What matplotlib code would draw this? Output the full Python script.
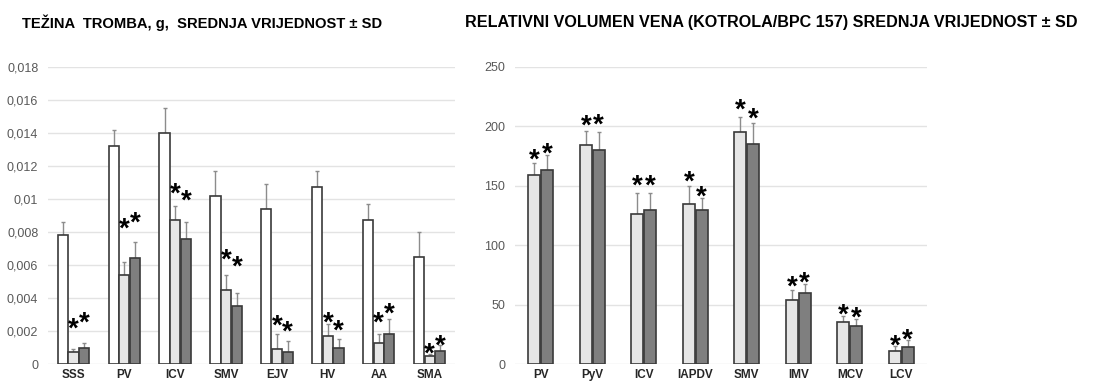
import numpy as np
import matplotlib
matplotlib.use("Agg")
from matplotlib import pyplot as plt
from matplotlib.ticker import FuncFormatter

plt.rcParams['font.family'] = ['Liberation Sans', 'DejaVu Sans']

# left panel: thrombus weight (g), mean and SD
left_cats = ["SSS", "PV", "ICV", "SMV", "EJV", "HV", "AA", "SMA"]
left_ctrl = [0.0078, 0.0132, 0.0140, 0.0102, 0.0094, 0.0107, 0.0087, 0.0065]
left_ctrl_sd = [0.0008, 0.0010, 0.0015, 0.0015, 0.0015, 0.0010, 0.0010, 0.0015]
left_a = [0.0007, 0.0054, 0.0087, 0.0045, 0.0009, 0.0017, 0.0013, 0.00046]
left_a_sd = [0.0002, 0.0008, 0.0009, 0.0009, 0.0009, 0.0007, 0.0005, 0.00015]
left_b = [0.0010, 0.0064, 0.0076, 0.0035, 0.0007, 0.0010, 0.0018, 0.0008]
left_b_sd = [0.0003, 0.0010, 0.0010, 0.0008, 0.0007, 0.0005, 0.0009, 0.00035]
left_star_a = [0.00258, 0.00863, 0.01075, 0.00675, 0.00278, 0.00292, 0.00292, 0.00107]
left_star_b = [0.00292, 0.00903, 0.01034, 0.00635, 0.00238, 0.00248, 0.00349, 0.00157]

# right panel: relative vein volume (control/BPC 157)
right_cats = ["PV", "PyV", "ICV", "IAPDV", "SMV", "IMV", "MCV", "LCV"]
right_a = [159, 184, 126, 135, 195, 54, 35, 11]
right_a_sd = [10, 12, 18, 15, 13, 8, 5.5, 4.5]
right_b = [163, 180, 130, 130, 185, 60, 32, 14]
right_b_sd = [13, 15, 14, 10, 18, 7, 6, 6]
right_star_a = [178, 207, 156, 160, 220, 71, 48, 22]
right_star_b = [183, 208, 156, 147, 213, 75, 45.5, 27]

EDGE = "#3a3a3a"
ERR = "#8c8c8c"
C_CTRL = "white"
C_A = "#e6e6e6"
C_B = "#7f7f7f"


def style_axis(ax, cats):
    for s in ax.spines.values():
        s.set_visible(False)
    ax.grid(True, axis="y", color="#e3e3e3", linewidth=1)
    ax.set_axisbelow(True)
    ax.tick_params(axis="both", length=0)
    ax.tick_params(axis="y", labelsize=9, labelcolor="#595959", pad=7)
    ax.set_xticks(np.arange(len(cats)))
    ax.set_xticklabels(cats, fontsize=8.5, fontweight="bold", color="#262626")
    ax.set_xlim(-0.5, len(cats) - 0.5)


def draw_bars(ax, x, vals, sds, color, width):
    ax.bar(x, vals, width=width, color=color, edgecolor=EDGE, linewidth=1.2, zorder=3)
    ax.errorbar(x, vals, yerr=[np.zeros(len(vals)), sds], fmt="none",
                ecolor=ERR, elinewidth=1, capsize=1.2, capthick=1, zorder=2)


def draw_stars(ax, x, ys):
    for xi, yi in zip(x, ys):
        ax.text(xi, yi, "*", ha="center", va="center", fontsize=20,
                fontweight="bold", color="black", zorder=4)


fig = plt.figure(figsize=(10.97, 3.83), dpi=100)

ax1 = fig.add_axes([0.0438, 0.0496, 0.371, 0.7755])
x = np.arange(len(left_cats))
w = 0.2
draw_bars(ax1, x - 0.21, left_ctrl, left_ctrl_sd, C_CTRL, w)
draw_bars(ax1, x, left_a, left_a_sd, C_A, w)
draw_bars(ax1, x + 0.21, left_b, left_b_sd, C_B, w)
draw_stars(ax1, x, np.array(left_star_a) - 0.0005)
draw_stars(ax1, x + 0.21, np.array(left_star_b) - 0.0005)
ax1.set_ylim(0, 0.018)
ax1.set_yticks(np.arange(0, 0.0181, 0.002))
ax1.yaxis.set_major_formatter(FuncFormatter(
    lambda v, p: "0" if v == 0 else ("%.3f" % v).rstrip("0").replace(".", ",")))
style_axis(ax1, left_cats)

ax2 = fig.add_axes([0.4695, 0.0496, 0.3756, 0.7755])
x = np.arange(len(right_cats))
w = 0.23
draw_bars(ax2, x - 0.125, right_a, right_a_sd, C_A, w)
draw_bars(ax2, x + 0.125, right_b, right_b_sd, C_B, w)
draw_stars(ax2, x - 0.125, np.array(right_star_a) - 7)
draw_stars(ax2, x + 0.125, np.array(right_star_b) - 7)
ax2.set_ylim(0, 250)
ax2.set_yticks(np.arange(0, 251, 50))
style_axis(ax2, right_cats)

fig.text(0.02, 0.94, "TEŽINA  TROMBA, g,  SREDNJA VRIJEDNOST ± SD",
         fontsize=10.6, fontweight="bold", ha="left", va="center")
fig.text(0.424, 0.94, "RELATIVNI VOLUMEN VENA (KOTROLA/BPC 157) SREDNJA VRIJEDNOST ± SD",
         fontsize=11.6, fontweight="bold", ha="left", va="center")

fig.savefig("out.png", dpi=100)
